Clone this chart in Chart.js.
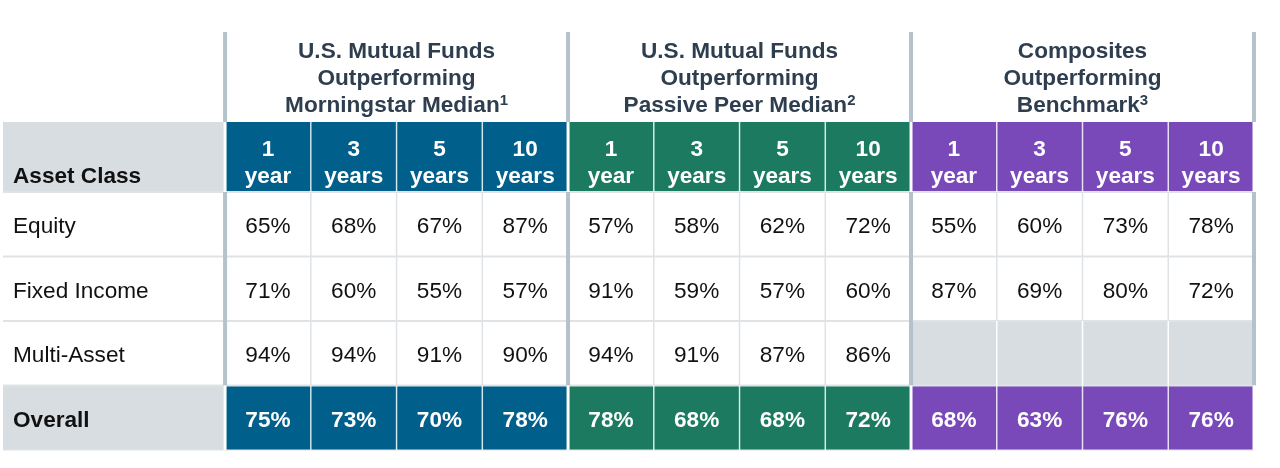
<!DOCTYPE html>
<html>
<head>
<meta charset="utf-8">
<script src="https://cdn.jsdelivr.net/npm/chart.js@4.4.1/dist/chart.umd.min.js"></script>
<style>
    body { margin: 0; background: #fff; }
    #chart { display: block; }
</style>
</head>
<body>
<canvas id="chart" width="1280" height="468"></canvas>
<script>
// column groups
var groupTitles = [
    ['U.S. Mutual Funds', 'Outperforming', 'Morningstar Median'],
    ['U.S. Mutual Funds', 'Outperforming', 'Passive Peer Median'],
    ['Composites', 'Outperforming', 'Benchmark']
];
var groupNotes = ['1', '2', '3'];
var periodNumbers = ['1', '3', '5', '10'];
var periodUnits = ['year', 'years', 'years', 'years'];

// rows
var assetClasses = ['Equity', 'Fixed Income', 'Multi-Asset', 'Overall'];
var equity      = [65, 68, 67, 87, 57, 58, 62, 72, 55, 60, 73, 78];
var fixedIncome = [71, 60, 55, 57, 91, 59, 57, 60, 87, 69, 80, 72];
var multiAsset  = [94, 94, 91, 90, 94, 91, 87, 86, null, null, null, null];
var overall     = [75, 73, 70, 78, 78, 68, 68, 72, 68, 63, 76, 76];

var rows = [equity, fixedIncome, multiAsset, overall];

var groupColors = ['#015f8b', '#1b7a5f', '#7a49b9'];
var GRAY = '#d7dde1';
var SEP = '#b4c2cb';
var GRID = '#dfe3e6';
var FONT = '"Liberation Sans", Arial, sans-serif';
var SIZE = '22.6px ';

// layout in scale units
var LEFT = -2.59;      // left label column
var HEAD_TOP = -2.48;  // group title area
var SUB_TOP = -1.085;  // period header row

var tablePlugin = {
    id: 'table',
    afterDraw: function (chart) {
        var ctx = chart.ctx;
        var sx = chart.scales.x, sy = chart.scales.y;
        var nCols = groupTitles.length * periodNumbers.length;
        var nRows = rows.length;

        function px(v) { return sx.getPixelForValue(v); }
        function py(v) { return sy.getPixelForValue(v); }
        function box(x0, y0, x1, y1, color) {
            ctx.fillStyle = color;
            ctx.fillRect(px(x0), py(y0), px(x1) - px(x0), py(y1) - py(y0));
        }
        function vline(x, y0, y1, color, w) {
            ctx.strokeStyle = color;
            ctx.lineWidth = w;
            ctx.beginPath();
            ctx.moveTo(px(x), py(y0));
            ctx.lineTo(px(x), py(y1));
            ctx.stroke();
        }
        function hline(y, x0, x1, color, w) {
            ctx.strokeStyle = color;
            ctx.lineWidth = w;
            ctx.beginPath();
            ctx.moveTo(px(x0), py(y));
            ctx.lineTo(px(x1), py(y));
            ctx.stroke();
        }

        ctx.save();

        // cell fills
        box(LEFT, SUB_TOP, 0, 0, GRAY);
        box(LEFT, nRows - 1, 0, nRows, GRAY);
        for (var c = 0; c < nCols; c++) {
            var color = groupColors[Math.floor(c / 4)];
            box(c, SUB_TOP, c + 1, 0, color);
            box(c, nRows - 1, c + 1, nRows, color);
            for (var r = 0; r < nRows - 1; r++) {
                if (rows[r][c] === null) box(c, r, c + 1, r + 1, GRAY);
            }
        }

        // horizontal grid
        for (var r = 0; r <= nRows; r++) {
            hline(r, LEFT, nCols, GRID, r === nRows ? 1 : 2);
        }

        // inner vertical grid
        for (var c = 1; c < nCols; c++) {
            if (c % 4 === 0) continue;
            vline(c, SUB_TOP, 0, 'rgba(255,255,255,0.8)', 1.5);
            vline(c, nRows - 1, nRows, 'rgba(255,255,255,0.8)', 1.5);
            for (var r = 0; r < nRows - 1; r++) {
                var na = rows[r][c - 1] === null;
                vline(c, r, r + 1, na ? '#ffffff' : GRID, 1.5);
            }
        }

        // group separators
        for (var g = 0; g <= groupTitles.length; g++) {
            var gx = g * 4;
            vline(gx, HEAD_TOP, SUB_TOP, SEP, 4);
            vline(gx, 0, nRows - 1, SEP, 4);
            vline(gx, SUB_TOP, 0, '#ffffff', 3);
            vline(gx, nRows - 1, nRows, '#ffffff', 3);
        }

        ctx.textBaseline = 'middle';

        // group titles
        var headMid = (py(HEAD_TOP) + py(SUB_TOP)) / 2 + 2;
        groupTitles.forEach(function (lines, g) {
            var cx = px(g * 4 + 2);
            lines.forEach(function (line, i) {
                var ly = headMid + (i - 1) * 27;
                ctx.fillStyle = '#2e3e4e';
                ctx.font = 'bold ' + SIZE + FONT;
                if (i === lines.length - 1) {
                    var w = ctx.measureText(line).width;
                    ctx.font = 'bold 15px ' + FONT;
                    var sw = ctx.measureText(groupNotes[g]).width;
                    var x0 = cx - (w + sw) / 2;
                    ctx.textAlign = 'left';
                    ctx.font = 'bold ' + SIZE + FONT;
                    ctx.fillText(line, x0, ly);
                    ctx.font = 'bold 15px ' + FONT;
                    ctx.fillText(groupNotes[g], x0 + w, ly - 5);
                } else {
                    ctx.textAlign = 'center';
                    ctx.fillText(line, cx, ly);
                }
            });
        });

        // period header row
        var subMid = (py(SUB_TOP) + py(0)) / 2 + 2;
        ctx.font = 'bold ' + SIZE + FONT;
        ctx.fillStyle = '#ffffff';
        ctx.textAlign = 'center';
        for (var c = 0; c < nCols; c++) {
            var p = c % 4;
            ctx.fillText(periodNumbers[p], px(c + 0.5), subMid - 9);
            ctx.fillText(periodUnits[p], px(c + 0.5), subMid + 18);
        }
        ctx.fillStyle = '#111111';
        ctx.textAlign = 'left';
        ctx.fillText('Asset Class', px(LEFT) + 10, subMid + 18);

        // body rows
        rows.forEach(function (vals, r) {
            var ry = py(r + 0.5) + 3;
            var last = r === nRows - 1;
            ctx.font = (last ? 'bold ' : '') + SIZE + FONT;
            ctx.fillStyle = '#111111';
            ctx.textAlign = 'left';
            ctx.fillText(assetClasses[r], px(LEFT) + 10, ry);
            ctx.textAlign = 'center';
            ctx.fillStyle = last ? '#ffffff' : '#111111';
            vals.forEach(function (v, c) {
                if (v === null) return;
                ctx.fillText(v + '%', px(c + 0.5), ry);
            });
        });

        ctx.restore();
    }
};

new Chart(document.getElementById('chart'), {
    type: 'scatter',
    data: { datasets: [{ data: [] }] },
    plugins: [tablePlugin],
    options: {
        responsive: false,
        animation: false,
        layout: { padding: { left: 3, right: 26, top: 32, bottom: 18 } },
        plugins: {
            legend: { display: false },
            tooltip: { enabled: false }
        },
        scales: {
            x: { type: 'linear', min: LEFT, max: 12, display: false },
            y: { type: 'linear', min: HEAD_TOP, max: 4, reverse: true, display: false }
        }
    }
});
</script>
</body>
</html>
